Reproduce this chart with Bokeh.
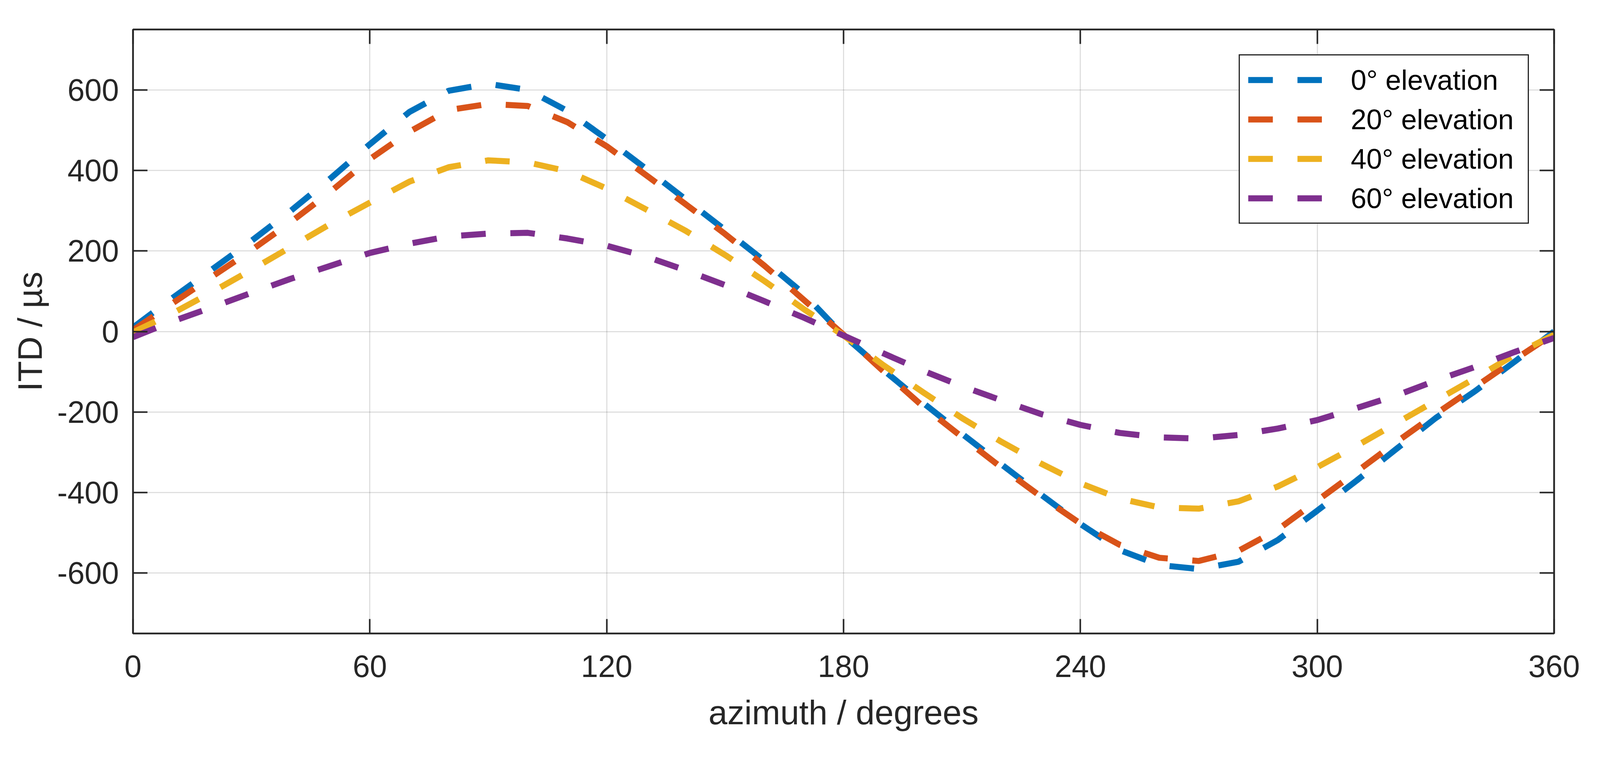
from bokeh.plotting import figure
from bokeh.models import Range1d, LinearAxis, FixedTicker, Legend, LegendItem
from bokeh.embed import file_html
from bokeh.resources import INLINE

azimuth = list(range(0, 361, 10))

itd_elev0 = [10, 83, 154, 225, 300, 380, 465, 545, 598, 615, 600, 548, 478, 404, 328,
             252, 175, 93, -10, -95, -176, -254, -330, -405, -478, -543, -580, -590,
             -572, -518, -445, -370, -292, -215, -148, -75, 0]
itd_elev20 = [3, 70, 136, 202, 272, 347, 428, 496, 550, 565, 560, 520, 460, 388, 316,
              242, 163, 78, -8, -98, -185, -262, -338, -410, -477, -530, -562, -570,
              -545, -492, -420, -348, -275, -205, -138, -70, -5]
itd_elev40 = [-2, 45, 98, 153, 210, 267, 320, 372, 408, 425, 420, 398, 355, 303, 250,
              190, 125, 55, -10, -83, -150, -215, -274, -328, -377, -415, -437, -440,
              -422, -385, -337, -284, -228, -172, -116, -58, -8]
itd_elev60 = [-14, 25, 60, 96, 131, 163, 195, 218, 236, 243, 245, 231, 213, 186, 152,
              115, 75, 34, -10, -54, -97, -136, -171, -205, -232, -252, -263, -266,
              -257, -241, -220, -190, -159, -122, -88, -51, -16]

series = [itd_elev0, itd_elev20, itd_elev40, itd_elev60]
labels = ["0° elevation", "20° elevation", "40° elevation", "60° elevation"]
colors = ["#0072BD", "#D95319", "#EDB120", "#7E2F8E"]

x_ticks = [0, 60, 120, 180, 240, 300, 360]
y_ticks = [-600, -400, -200, 0, 200, 400, 600]
y_tick_labels = {t: str(t) for t in y_ticks}
x_tick_labels = {t: str(t) for t in x_ticks}

FONT = "Liberation Sans"
AX = "#262626"

p = figure(frame_width=3638, frame_height=1547,
           min_border_left=340, min_border_right=100,
           min_border_top=75, min_border_bottom=282,
           x_range=Range1d(0, 360), y_range=Range1d(-750, 750),
           output_backend="svg", toolbar_location=None,
           background_fill_color="white", border_fill_color="white")

p.outline_line_color = AX
p.outline_line_width = 4
p.outline_line_alpha = 1

renderers = []
for vals, c in zip(series, colors):
    r = p.line(azimuth, vals, line_color=c, line_width=15.5, line_dash="63 63",
               line_cap="butt")
    renderers.append(r)

top_axis = LinearAxis()
right_axis = LinearAxis()
p.add_layout(top_axis, "above")
p.add_layout(right_axis, "right")

for ax in p.xaxis:
    ax.ticker = FixedTicker(ticks=x_ticks)
    ax.major_label_overrides = x_tick_labels
for ax in p.yaxis:
    ax.ticker = FixedTicker(ticks=y_ticks)
    ax.major_label_overrides = y_tick_labels

for ax in list(p.xaxis) + list(p.yaxis):
    ax.axis_line_color = AX
    ax.axis_line_width = 4
    ax.major_tick_line_color = AX
    ax.major_tick_line_width = 4
    ax.major_tick_in = 37
    ax.major_tick_out = 0
    ax.minor_tick_line_color = None
    ax.major_label_text_font = FONT
    ax.major_label_text_font_size = "79px"
    ax.major_label_text_color = AX
    ax.axis_label_text_font = FONT
    ax.axis_label_text_font_size = "87px"
    ax.axis_label_text_font_style = "normal"
    ax.axis_label_text_color = AX

# mirrored tick marks on top and right (box style), labels hidden
for ax in (top_axis, right_axis):
    ax.major_label_text_font_size = "0px"
    ax.major_label_standoff = 0

bottom = p.below[0]
left = p.left[0]
bottom.axis_label = "azimuth / degrees"
left.axis_label = "ITD / µs"
bottom.major_label_standoff = 56
left.major_label_standoff = 36
bottom.axis_label_standoff = 39
left.axis_label_standoff = 18

p.xgrid.grid_line_color = AX
p.xgrid.grid_line_alpha = 0.15
p.xgrid.grid_line_width = 3
p.ygrid.grid_line_color = AX
p.ygrid.grid_line_alpha = 0.15
p.ygrid.grid_line_width = 3

legend = Legend(
    items=[LegendItem(label=l, renderers=[r]) for l, r in zip(labels, renderers)],
    location="top_right", margin=64, padding=21, spacing=18,
    glyph_width=189, glyph_height=83, label_height=83, label_width=432,
    label_standoff=74,
    label_text_font=FONT, label_text_font_size="72px", label_text_color="black",
    border_line_color=AX, border_line_width=3, border_line_alpha=1,
    background_fill_color="white", background_fill_alpha=1,
)
p.add_layout(legend)

open("out.html", "w").write(file_html(p, INLINE))
